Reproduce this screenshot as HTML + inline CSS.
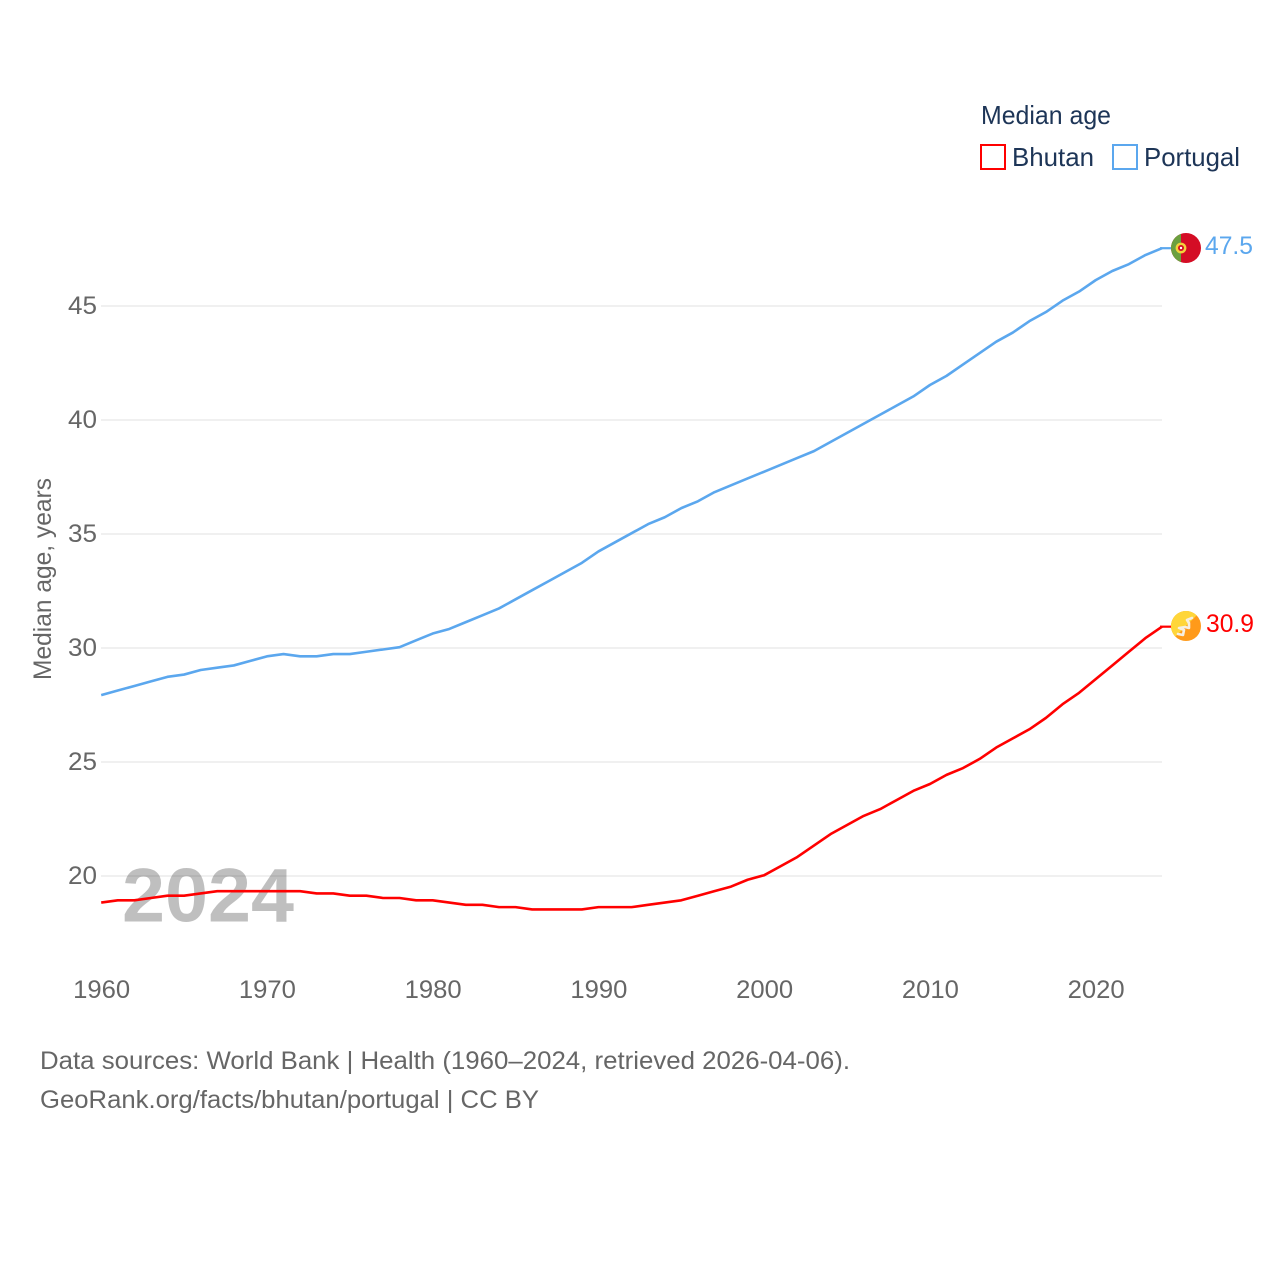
<!DOCTYPE html>
<html lang="en">
<head>
<meta charset="utf-8">
<title>Median age: Bhutan and Portugal</title>
<style>
html,body{margin:0;padding:0;background:#fff;}
svg{display:block;font-family:"Liberation Sans",sans-serif;}
</style>
</head>
<body>
<svg id="chart" xmlns="http://www.w3.org/2000/svg" width="1280" height="1280" viewBox="0 0 1280 1280">
  <defs>
    <clipPath id="flag-clip"><circle cx="0" cy="0" r="15"></circle></clipPath>
  </defs>
  <rect x="0" y="0" width="1280" height="1280" fill="#ffffff"></rect>
  <g id="grid"></g>
  <text x="122" y="921.5" font-size="76" font-weight="700" fill="#000000" fill-opacity="0.25" textLength="172" lengthAdjust="spacingAndGlyphs">2024</text>
  <g id="y-ticks"></g>
  <g id="x-ticks"></g>
  <text transform="translate(51,680) rotate(-90)" font-size="25" fill="#666666" textLength="202" lengthAdjust="spacingAndGlyphs">Median age, years</text>
  <g id="series" transform="translate(0,-0.8)"></g>

  <g>
    <text x="981" y="124" font-size="26" fill="#1d3557" textLength="130" lengthAdjust="spacingAndGlyphs">Median age</text>
    <rect x="981" y="145" width="24" height="24" fill="#ffffff" stroke="#ff0000" stroke-width="2"></rect>
    <text x="1012" y="166" font-size="26" fill="#1d3557" textLength="82" lengthAdjust="spacingAndGlyphs">Bhutan</text>
    <rect x="1113" y="145" width="24" height="24" fill="#ffffff" stroke="#5ba7ee" stroke-width="2"></rect>
    <text x="1144" y="166" font-size="26" fill="#1d3557" textLength="96" lengthAdjust="spacingAndGlyphs">Portugal</text>
  </g>

  <g id="end-markers"></g>

  <text x="40" y="1069" font-size="25" fill="#666666" textLength="810" lengthAdjust="spacingAndGlyphs">Data sources: World Bank | Health (1960–2024, retrieved 2026-04-06).</text>
  <text x="40" y="1108" font-size="25" fill="#666666" textLength="499" lengthAdjust="spacingAndGlyphs">GeoRank.org/facts/bhutan/portugal | CC BY</text>
</svg>
<script>
const years = [1960,1961,1962,1963,1964,1965,1966,1967,1968,1969,1970,1971,1972,1973,1974,1975,1976,1977,1978,1979,1980,1981,1982,1983,1984,1985,1986,1987,1988,1989,1990,1991,1992,1993,1994,1995,1996,1997,1998,1999,2000,2001,2002,2003,2004,2005,2006,2007,2008,2009,2010,2011,2012,2013,2014,2015,2016,2017,2018,2019,2020,2021,2022,2023,2024];
const bhutanValues = [18.8,18.9,18.9,19.0,19.1,19.1,19.2,19.3,19.3,19.3,19.3,19.3,19.3,19.2,19.2,19.1,19.1,19.0,19.0,18.9,18.9,18.8,18.7,18.7,18.6,18.6,18.5,18.5,18.5,18.5,18.6,18.6,18.6,18.7,18.8,18.9,19.1,19.3,19.5,19.8,20.0,20.4,20.8,21.3,21.8,22.2,22.6,22.9,23.3,23.7,24.0,24.4,24.7,25.1,25.6,26.0,26.4,26.9,27.5,28.0,28.6,29.2,29.8,30.4,30.9];
const portugalValues = [27.9,28.1,28.3,28.5,28.7,28.8,29.0,29.1,29.2,29.4,29.6,29.7,29.6,29.6,29.7,29.7,29.8,29.9,30.0,30.3,30.6,30.8,31.1,31.4,31.7,32.1,32.5,32.9,33.3,33.7,34.2,34.6,35.0,35.4,35.7,36.1,36.4,36.8,37.1,37.4,37.7,38.0,38.3,38.6,39.0,39.4,39.8,40.2,40.6,41.0,41.5,41.9,42.4,42.9,43.4,43.8,44.3,44.7,45.2,45.6,46.1,46.5,46.8,47.2,47.5];
const yTickValues = [20,25,30,35,40,45];
const xTickValues = [1960,1970,1980,1990,2000,2010,2020];

const NS = 'http://www.w3.org/2000/svg';
function xScale(year){ return 101.2 + (year - 1960) * (1162 - 101.2) / 64; }
function yScale(v){ return 876 - (v - 20) * 22.8; }
function make(tag, attrs, parent){
  const el = document.createElementNS(NS, tag);
  for (const k in attrs) el.setAttribute(k, attrs[k]);
  parent.appendChild(el);
  return el;
}

const grid = document.getElementById('grid');
const yTicks = document.getElementById('y-ticks');
yTickValues.forEach(function(v){
  const line = make('line', {x1:101, x2:1162, y1:yScale(v), y2:yScale(v), stroke:'#ebebeb', 'stroke-width':1.6}, grid);
  
  
  const label = make('text', {x:97, y:yScale(v)+8, 'text-anchor':'end', 'font-size':25, fill:'#666666', textLength:29, lengthAdjust:'spacingAndGlyphs'}, yTicks);
  
  
  label.textContent = v;
});

const xTicks = document.getElementById('x-ticks');
xTickValues.forEach(function(y){
  const label = make('text', {x:xScale(y)+0.5, y:998, 'text-anchor':'middle', 'font-size':25, fill:'#666666', textLength:57, lengthAdjust:'spacingAndGlyphs'}, xTicks);
  
  
  label.textContent = y;
});

function linePath(values){
  return values.map(function(v, i){
    return (i ? 'L' : 'M') + xScale(years[i]).toFixed(2) + ' ' + yScale(v).toFixed(2);
  }).join(' ');
}
const series = document.getElementById('series');
const bhutanLine = make('path', {d:linePath(bhutanValues), fill:'none', stroke:'#ff0000', 'stroke-width':2.6, 'stroke-linejoin':'round'}, series);


const portugalLine = make('path', {d:linePath(portugalValues), fill:'none', stroke:'#5ba7ee', 'stroke-width':2.6, 'stroke-linejoin':'round'}, series);



const markers = document.getElementById('end-markers');
const xEnd = xScale(years[years.length - 1]);

/* Portugal end marker */
const pLast = portugalValues[portugalValues.length - 1];
const pY = yScale(pLast);
const pStub = make('line', {x1:xEnd-2, x2:1172, y1:pY-0.8, y2:pY-0.8, stroke:'#5ba7ee', 'stroke-width':2.2}, markers);


const pFlag = make('g', {transform:'translate(1186,' + (pY - 1) + ')', 'clip-path':'url(#flag-clip)'}, markers);


make('rect', {x:-15, y:-15, width:30, height:30, fill:'#d40d25'}, pFlag);
make('rect', {x:-15, y:-15, width:10, height:30, fill:'#6ba03f'}, pFlag);
make('circle', {cx:-5, cy:0, r:5.4, fill:'#f3d23a'}, pFlag);
make('circle', {cx:-5, cy:0, r:3, fill:'#d40d25'}, pFlag);
make('circle', {cx:-5, cy:0, r:1.2, fill:'#ffffff'}, pFlag);
const pLabel = make('text', {x:1205, y:pY+5, 'font-size':25, fill:'#5ba7ee', textLength:48, lengthAdjust:'spacingAndGlyphs'}, markers);


pLabel.textContent = pLast.toFixed(1);

/* Bhutan end marker */
const bLast = bhutanValues[bhutanValues.length - 1];
const bY = yScale(bLast);
const bStub = make('line', {x1:xEnd-2, x2:1172, y1:bY-0.8, y2:bY-0.8, stroke:'#ff0000', 'stroke-width':2.2}, markers);


const bFlag = make('g', {transform:'translate(1186,' + (bY - 1.5) + ')', 'clip-path':'url(#flag-clip)'}, markers);


make('rect', {x:-15, y:-15, width:30, height:30, fill:'#ff9a1a'}, bFlag);
make('path', {d:'M-15 15 L-15 -15 L15 -15 Z', fill:'#ffd63a'}, bFlag);
make('path', {d:'M-8 8 L-3 9 L-2 4 L-7 2 L-1 1 L3 2 L3 -3 L1 -6 L6 -8', fill:'none', stroke:'#f6efe2', 'stroke-width':2.6, 'stroke-linejoin':'round', 'stroke-linecap':'round'}, bFlag);
const bLabel = make('text', {x:1206, y:bY+4.5, 'font-size':25, fill:'#ff0000', textLength:48, lengthAdjust:'spacingAndGlyphs'}, markers);


bLabel.textContent = bLast.toFixed(1);
</script>
</body>
</html>
